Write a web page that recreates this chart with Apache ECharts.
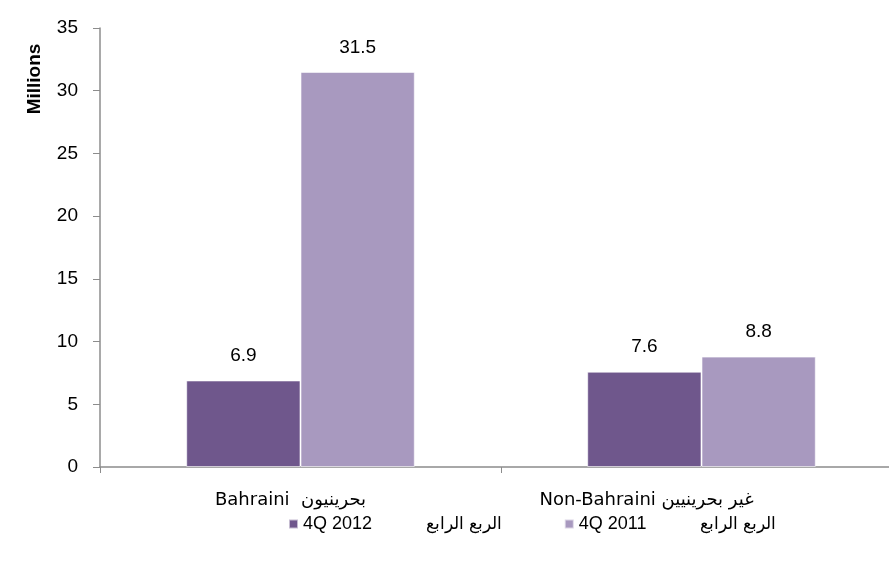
<!DOCTYPE html>
<html>
<head>
<meta charset="utf-8">
<script src="https://cdn.jsdelivr.net/npm/echarts@6/dist/echarts.min.js"></script>
<style>
  html, body { margin: 0; padding: 0; background: #fff; }
  #chart { width: 889px; height: 572px; }
</style>
</head>
<body>
<div id="chart"></div>
<script>
// categories and series values (millions)
var categories = ['Bahraini  بحرينيون', 'Non-Bahraini غير بحرينيين'];
var seriesNames = ['4Q 2012', '4Q 2011'];
var seriesArabic = 'الربع الرابع';
var values2012 = [6.9, 7.6];
var values2011 = [31.5, 8.8];
var yTicks = [0, 5, 10, 15, 20, 25, 30, 35];

var chart = echarts.init(document.getElementById('chart'));

var labelFont = 'Liberation Sans, Arial, sans-serif';

var option = {
  animation: false,
  grid: { left: 100, width: 802, top: 28, bottom: 105, outerBoundsMode: 'none', containLabel: false },
  graphic: [{
    type: 'text',
    x: 35, y: 79,
    rotation: Math.PI / 2,
    style: {
      text: 'Millions',
      font: 'bold 19px ' + labelFont,
      fill: '#000',
      align: 'center',
      verticalAlign: 'middle'
    }
  }],
  legend: {
    bottom: 34,
    left: 283,
    itemWidth: 9,
    itemHeight: 9,
    itemGap: 62,
    icon: 'rect',
    data: seriesNames,
    formatter: function (name) {
      return '{a|' + name + '}{b|' + seriesArabic + '}';
    },
    textStyle: {
      color: '#000',
      rich: {
        a: { fontSize: 18, fontFamily: labelFont, color: '#000' },
        b: { fontSize: 17, fontFamily: labelFont, color: '#000', padding: [0, 0, 0, 54] }
      }
    }
  },
  xAxis: {
    type: 'category',
    data: categories,
    axisLine: { lineStyle: { color: '#8c8c8c', width: 1.5 } },
    axisTick: { show: true, length: 6, lineStyle: { color: '#8c8c8c' } },
    axisLabel: {
      color: '#000',
      margin: 24,
      formatter: function (v, i) {
        return (i === 0 ? '{c0|' : '{c1|') + v + '}';
      },
      rich: {
        c0: { fontSize: 18, fontFamily: 'DejaVu Sans, sans-serif', color: '#000', padding: [0, 20, 0, 0] },
        c1: { fontSize: 18, fontFamily: 'DejaVu Sans, sans-serif', color: '#000', padding: [0, 110, 0, 0] }
      }
    }
  },
  yAxis: {
    type: 'value',
    min: yTicks[0],
    max: yTicks[yTicks.length - 1],
    interval: 5,
    splitLine: { show: false },
    axisLine: { show: true, lineStyle: { color: '#8c8c8c', width: 1.5 } },
    axisTick: { show: true, length: 7, lineStyle: { color: '#8c8c8c' } },
    axisLabel: { color: '#000', fontSize: 19, fontFamily: labelFont, margin: 22 }
  },
  series: [{
    name: seriesNames[0],
    type: 'bar',
    data: values2012,
    barGap: '0%',
    barCategoryGap: '43%',
    itemStyle: { color: '#6F578C', borderColor: 'rgba(255,255,255,0.6)', borderWidth: 1 },
    label: {
      show: true, position: 'top', distance: 15,
      color: '#000', fontSize: 19, fontFamily: labelFont,
      formatter: function (p) { return p.value.toFixed(1); }
    }
  }, {
    name: seriesNames[1],
    type: 'bar',
    data: values2011,
    barGap: '0%',
    barCategoryGap: '43%',
    itemStyle: { color: '#A899BF', borderColor: 'rgba(255,255,255,0.6)', borderWidth: 1 },
    label: {
      show: true, position: 'top', distance: 15,
      color: '#000', fontSize: 19, fontFamily: labelFont,
      formatter: function (p) { return p.value.toFixed(1); }
    }
  }]
};

chart.setOption(option);
</script>
</body>
</html>
